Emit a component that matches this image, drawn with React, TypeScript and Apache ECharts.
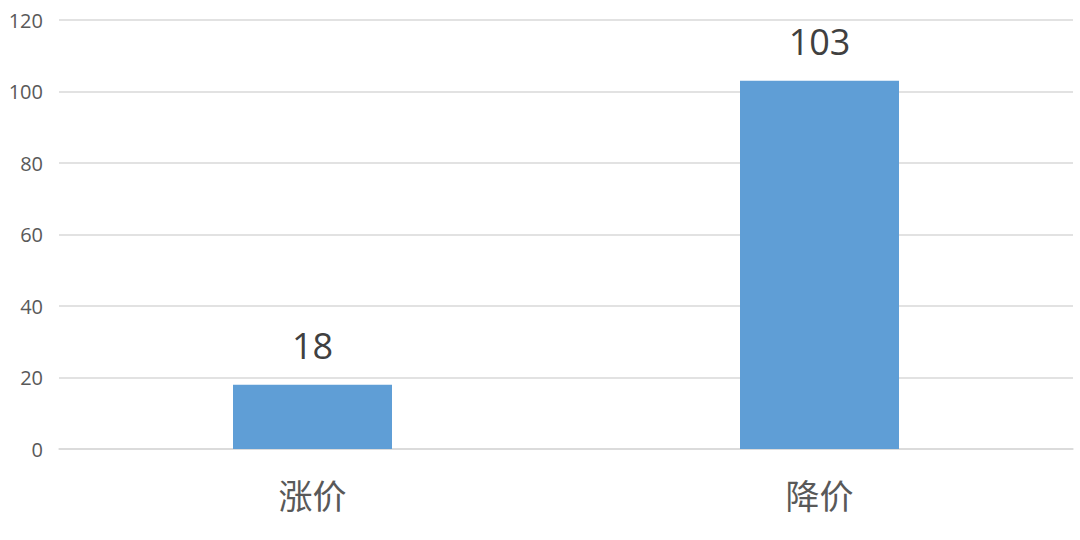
import { useEffect, useRef } from "react";
import * as echarts from "echarts";

const categories = ["涨价", "降价"];
const counts = [18, 103];
const yTicks = { min: 0, max: 120, interval: 20 };

export default function App() {
  const elementRef = useRef<HTMLDivElement | null>(null);

  useEffect(() => {
    if (!elementRef.current) return;
    const chart = echarts.init(elementRef.current, undefined, { renderer: "svg" });
    chart.setOption({
      animation: false,
      backgroundColor: "#ffffff",
      grid: { left: 59, right: 7, top: 20, bottom: 91, containLabel: false },
      xAxis: {
        type: "category",
        data: categories,
        axisTick: { show: false },
        axisLine: { lineStyle: { color: "#d9d9d9", width: 1.5 } },
        axisLabel: { color: "#595959", fontSize: 34, margin: 28, fontFamily: "'Noto Sans CJK SC', sans-serif" },
      },
      yAxis: {
        type: "value",
        min: yTicks.min,
        max: yTicks.max,
        interval: yTicks.interval,
        axisLine: { show: false },
        axisTick: { show: false },
        splitLine: { lineStyle: { color: "#d9d9d9", width: 1.5 } },
        axisLabel: { color: "#595959", fontSize: 20, margin: 16, fontFamily: "'Open Sans', sans-serif" },
      },
      series: [
        {
          type: "bar",
          data: counts,
          barWidth: 159,
          itemStyle: { color: "#5f9ed6" },
          label: {
            show: true,
            position: "top",
            distance: 21,
            color: "#404040",
            fontSize: 36,
            fontFamily: "'Open Sans', sans-serif",
          },
        },
      ],
    });
    return () => chart.dispose();
  }, []);

  return (
    <div
      ref={elementRef}
      style={{ position: "absolute", left: 0, top: 0, width: 1080, height: 540 }}
    />
  );
}
